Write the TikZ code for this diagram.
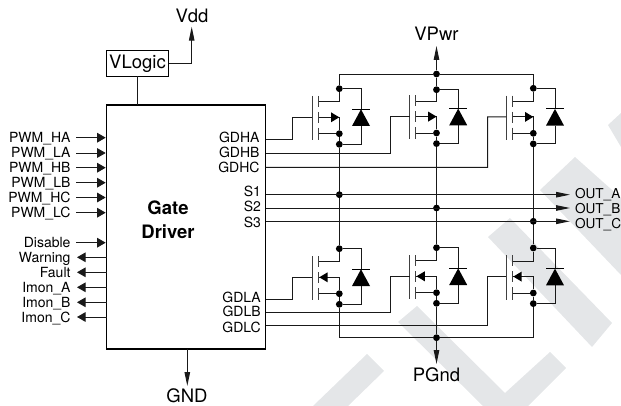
\documentclass[tikz,border=0pt]{standalone}
\usepackage{fontspec}
\setmainfont{TeX Gyre Heros}
\usetikzlibrary{arrows.meta,calc}
\definecolor{wm}{HTML}{E4E6E8}
\tikzset{
  wire/.style={line width=0.95pt,black!90},
  fetbar/.style={line width=0.95pt,black!75},
  dot/.style={circle,fill=black,inner sep=0pt,minimum size=6.8pt,draw=none},
  pinlab/.style={font=\fontsize{14}{15}\selectfont,text height=10pt,text depth=0pt,inner sep=0pt,outer sep=0pt},
  outlab/.style={font=\fontsize{13.6}{14}\selectfont,text height=9.8pt,text depth=0pt,inner sep=0pt,outer sep=0pt},
  biglab/.style={font=\fontsize{18.5}{20}\selectfont,text height=13.2pt,text depth=0pt,inner sep=0pt,outer sep=0pt},
  pinhead/.style={-{Triangle[length=8.5pt,width=9.5pt]},wire,shorten >=0pt},
  railhead/.style={-{Triangle[length=14pt,width=5.5pt]},wire},
}
% #1 id, #2 drain x, #3 fet y, #4 top dot y, #5 u(pper)/l(ower)
\newcommand{\mosfet}[5]{%
  \coordinate (#1gate) at (#2-27,#3+28.6);
  \coordinate (#1ch) at (#2-20.6,#3+28.6);
  \coordinate (#1src) at (#2,#3+28.6);
  \coordinate (#1st) at (#2-20.6,#3+13);
  \coordinate (#1dr) at (#2,#3+13);
  \coordinate (#1sb) at (#2-20.6,#3+45);
  \coordinate (#1dt) at (#2+21.7,#4);
  \coordinate (#1db) at (#2+21.7,#3+55.6);
  \coordinate (#1bar) at (#2+21.7,#3+20.6);
  \coordinate (#1base) at (#2+21.7,#3+37.3);
  \node[dot] (#1top) at (#2,#4) {};
  \node[dot] (#1mid) at (#2,#3+45) {};
  \node[dot] (#1bot) at (#2,#3+55.6) {};
  \draw[fetbar] (#2-27,#3+7.3) -- (#2-27,#3+51.5);
  \draw[fetbar] (#2-20.6,#3+7.3) -- (#2-20.6,#3+18.3);
  \draw[fetbar] (#2-20.6,#3+23.3) -- (#2-20.6,#3+34.3);
  \draw[fetbar] (#2-20.6,#3+39.3) -- (#2-20.6,#3+51.5);
  \draw[wire] (#1st) -- (#1dr) -- (#1top);
  \draw[wire] (#1ch) -- (#1src) -- (#1mid) -- (#1bot);
  \draw[wire] (#1sb) -- (#1mid);
  \draw[wire] (#1top) -| (#1bar);
  \draw[wire] (#1base) |- (#1bot);
  \draw[line width=1pt,black] ($(#1bar)+(-9,0)$) -- ($(#1bar)+(9,0)$);
  \fill[black] (#1bar) -- ($(#1base)+(9,0)$) -- ($(#1base)+(-9,0)$) -- cycle;
  \if#5u
    \fill[black] (#1src) -- ++(-8.3,-5) -- ++(0,10) -- cycle;
  \else
    \fill[black] ($(#1ch)+(0.6,0)$) -- ++(8.3,-5) -- ++(0,10) -- cycle;
  \fi
}
\begin{document}
\begin{tikzpicture}[x=1pt,y=-1pt]
\useasboundingbox (0,0) rectangle (621,406);
% watermark
\fill[wm] (608,125) -- (621,113) -- (621,147) -- cycle;
\fill[wm] (575,157) -- (621,198) -- (621,275) -- (540,190) -- cycle;
\fill[wm] (510,218) -- (612,323) -- (592,347) -- (488,237) -- cycle;
\fill[wm] (398,322) -- (417,306) -- (505,393) -- (550,352) -- (566,368) -- (528,406) -- (483,406) -- cycle;
\fill[wm] (367,354) -- (384,371) -- (348,406) -- (313,406) -- cycle;
% blocks
\node[draw,line width=1.5pt,minimum width=159pt,minimum height=244pt,anchor=north west,inner sep=0pt,outer sep=0pt] (drv) at (106.7,105) {};
\node[draw,line width=0.7pt,minimum width=62.4pt,minimum height=25.6pt,anchor=north west,inner sep=0pt,outer sep=0pt,font=\fontsize{18.5}{20}\selectfont] (vlogic) at (106.3,50.7) {VLogic};
\node[font=\fontsize{18.5}{20}\selectfont\bfseries,inner sep=0pt,text height=13pt,text depth=0pt] (gate) at (168,208) {Gate};
\node[font=\fontsize{18.5}{20}\selectfont\bfseries,inner sep=0pt,text height=13pt,text depth=0pt] (driver) at (168,232) {Driver};
% supply labels
\node[biglab] (vdd) at (192,16) {Vdd};
\node[biglab] (gnd) at (187,395.5) {GND};
\node[biglab] (vpwr) at (436.5,34) {VPwr};
\node[biglab] (pgnd) at (436.5,374.5) {PGnd};
\coordinate (vddtip) at (191.7,26.7);
\coordinate (gndtip) at (187.3,386);
\coordinate (pwrtip) at (436.5,46);
\coordinate (pgndtip) at (436.5,364);
\draw[wire] (vlogic) -- (vlogic|-drv.north);
\draw[railhead] (vlogic.east) -| (vddtip);
\draw[railhead] (gndtip|-drv.south) -- (gndtip);
% input pins
\foreach \n/\t/\y in {a/PWM\_HA/137.7,b/PWM\_LA/153,c/PWM\_HB/167.7,d/PWM\_LB/182.7,e/PWM\_HC/197.5,f/PWM\_LC/212.7,g/Disable/242.7}{
  \node[pinlab,anchor=east] (in\n) at (70.5,\y) {\t};
  \draw[pinhead] ($(in\n.east)+(5.5,0)$) -- ($(drv.west|-in\n.east)+(-1,0)$);
}
\foreach \n/\t/\y in {h/Warning/257.3,i/Fault/272.3,j/Imon\_A/287.3,k/Imon\_B/302.3,l/Imon\_C/317}{
  \node[pinlab,anchor=east] (out\n) at (70.5,\y) {\t};
  \draw[pinhead] (drv.west|-out\n.east) -- ($(out\n.east)+(6.5,0)$);
}
% driver labels
\foreach \n/\t/\x/\y in {lha/GDHA/259.5/137.7,lhb/GDHB/259.5/153,lhc/GDHC/259.5/167.3,ls1/S1/261/191.7,ls2/S2/261/206.7,ls3/S3/261/222,lla/GDLA/260.7/297.3,llb/GDLB/260.7/311.7,llc/GDLC/260.7/327}{
  \node[pinlab,anchor=east] (\n) at (\x,\y) {\t};
}
% transistors
\mosfet{A}{339.3}{88.7}{88.7}{u}
\mosfet{B}{436.5}{88}{89.7}{u}
\mosfet{C}{533.3}{88.3}{88.3}{u}
\mosfet{D}{339.3}{248.7}{248.7}{l}
\mosfet{E}{436.5}{247.7}{247.7}{l}
\mosfet{F}{533.3}{248}{248}{l}
% buses
\node[dot] (pwrdot) at (436.5,74) {};
\node[dot] (gnddot) at (436.5,337.7) {};
\draw[wire] (Atop) |- (pwrdot);
\draw[wire] (pwrdot) -| (Ctop);
\draw[railhead] (pwrdot) -- (pwrtip);
\draw[wire] (pwrdot) -- (Btop);
\draw[wire] (Dbot) |- (gnddot);
\draw[wire] (gnddot) -| (Fbot);
\draw[wire] (Ebot) -- (gnddot);
\draw[railhead] (gnddot) -- (pgndtip);
\draw[wire] (Abot) -- (Dtop);
\draw[wire] (Bbot) -- (Etop);
\draw[wire] (Cbot) -- (Ftop);
% phase outputs
\node[outlab,anchor=west] (oa) at (575,194) {OUT\_A};
\node[outlab,anchor=west] (ob) at (575,209) {OUT\_B};
\node[outlab,anchor=west] (oc) at (575,224) {OUT\_C};
\node[dot] (sa) at (339.3,194.7) {};
\node[dot] (sb) at (436.5,208) {};
\node[dot] (sc) at (533.3,221.3) {};
\coordinate (oat) at (570,194.7);
\coordinate (obt) at (570,208);
\coordinate (oct) at (570,221.3);
\draw[railhead] (drv.east|-oat) -- (oat);
\draw[railhead] (drv.east|-obt) -- (obt);
\draw[railhead] (drv.east|-oct) -- (oct);
% gate drives
\coordinate (ghaS) at (265.7,139.3);
\coordinate (ghbS) at (265.7,153.3);
\coordinate (ghcS) at (265.7,167.3);
\coordinate (glaS) at (265.7,299.3);
\coordinate (glbS) at (265.7,312.3);
\coordinate (glcS) at (265.7,325);
\coordinate (ghaB) at (292.7,117.3);
\coordinate (ghbB) at (390.7,116.6);
\coordinate (ghcB) at (487.7,116.9);
\coordinate (glaB) at (292.7,277.3);
\coordinate (glbB) at (390.7,276.3);
\coordinate (glcB) at (487.7,276.6);
\draw[wire] (ghaS) -| (ghaB) -- (Agate);
\draw[wire] (ghbS) -| (ghbB) -- (Bgate);
\draw[wire] (ghcS) -| (ghcB) -- (Cgate);
\draw[wire] (glaS) -| (glaB) -- (Dgate);
\draw[wire] (glbS) -| (glbB) -- (Egate);
\draw[wire] (glcS) -| (glcB) -- (Fgate);
\end{tikzpicture}
\end{document}
